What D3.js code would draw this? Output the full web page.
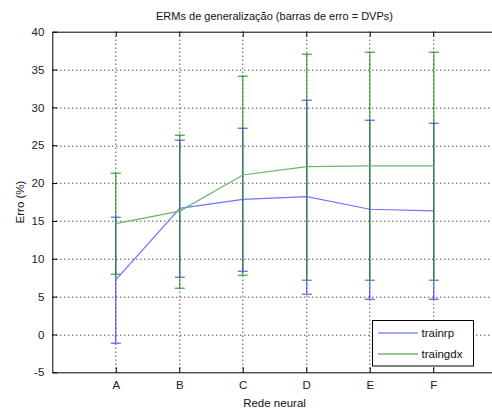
<!DOCTYPE html>
<html>
<head>
<meta charset="utf-8">
<script src="https://cdn.jsdelivr.net/npm/d3@7"></script>
<style>
  body { margin: 0; background: #fff; }
  svg { display: block; font-family: "Liberation Sans", Arial, sans-serif; }
  .tick-label { font-size: 11.5px; fill: #222; }
  .grid line { stroke: #000; stroke-dasharray: 1,3; stroke-width: 1; }
</style>
</head>
<body>
<div class="chart"></div>
<script>
// data
var categories = ["A", "B", "C", "D", "E", "F"];
var trainrpMean = [7.2, 16.67, 17.85, 18.2, 16.54, 16.33];
var trainrpStd = [8.32, 9.03, 9.49, 12.77, 11.8, 11.67];
var traingdxMean = [14.65, 16.3, 21.07, 22.17, 22.28, 22.28];
var traingdxStd = [6.67, 10.15, 13.17, 14.97, 15.04, 15.04];
var yTicks = [-5, 0, 5, 10, 15, 20, 25, 30, 35, 40];

var series = [
  { name: "trainrp", mean: trainrpMean, std: trainrpStd, line: "#7373ff", bar: "#3a3aff", key: "#5050ff" },
  { name: "traingdx", mean: traingdxMean, std: traingdxStd, line: "#6cb56c", bar: "#1f8a1f", key: "#2e922e" }
];

// svg setup
var svgWidth = 492;
var svgHeight = 409;
var margin = { top: 31.7, left: 52.3 };
var chartWidth = 444.4;   // axis runs slightly past the right edge of the picture
var chartHeight = 340.6;

var svg = d3.select(".chart")
  .append("svg")
  .attr("width", svgWidth)
  .attr("height", svgHeight);

var chartGroup = svg.append("g")
  .attr("transform", `translate(${margin.left}, ${margin.top})`);

// scales
var xScale = d3.scaleLinear().domain([0, 7]).range([0, chartWidth]);
var yScale = d3.scaleLinear().domain([-5, 40]).range([chartHeight, 0]);
var xPos = function(i) { return Math.round(xScale(i + 1)) + 0.5; };  // snap to pixel

// dotted grid
var grid = chartGroup.append("g").classed("grid", true);
grid.selectAll(".gy")
  .data(yTicks.filter(d => d > -5 && d < 40))
  .enter()
  .append("line")
  .attr("x1", 0).attr("x2", chartWidth)
  .attr("y1", d => Math.round(yScale(d)) + 0.5)
  .attr("y2", d => Math.round(yScale(d)) + 0.5);
grid.selectAll(".gx")
  .data(categories)
  .enter()
  .append("line")
  .attr("y1", 0).attr("y2", chartHeight)
  .attr("x1", (d, i) => xPos(i))
  .attr("x2", (d, i) => xPos(i));

// error bars and mean lines
series.forEach(function(s) {
  var g = chartGroup.append("g");
  var capHalf = 5;

  g.selectAll(".bar")
    .data(s.mean)
    .enter()
    .append("line")
    .attr("x1", (d, i) => xPos(i))
    .attr("x2", (d, i) => xPos(i))
    .attr("y1", (d, i) => yScale(d - s.std[i]))
    .attr("y2", (d, i) => yScale(d + s.std[i]))
    .attr("stroke", s.bar)
    .attr("stroke-width", 1);

  [-1, 1].forEach(function(sign) {
    g.selectAll(".cap" + sign)
      .data(s.mean)
      .enter()
      .append("line")
      .attr("x1", (d, i) => xPos(i) - capHalf)
      .attr("x2", (d, i) => xPos(i) + capHalf)
      .attr("y1", (d, i) => Math.round(yScale(d + sign * s.std[i])) + 0.5)
      .attr("y2", (d, i) => Math.round(yScale(d + sign * s.std[i])) + 0.5)
      .attr("stroke", s.bar)
      .attr("stroke-width", 1);
  });

  var line = d3.line()
    .x((d, i) => xPos(i))
    .y(d => yScale(d));

  g.append("path")
    .datum(s.mean)
    .attr("d", line)
    .attr("fill", "none")
    .attr("stroke", s.line)
    .attr("stroke-width", 1.2);
});

// axes box (MATLAB style, ticks inside)
var leftAxis = d3.axisLeft(yScale)
  .tickValues(yTicks)
  .tickFormat(d => String(d))   // plain hyphen for -5
  .tickSizeInner(-5).tickSizeOuter(0).tickPadding(8);
var bottomAxis = d3.axisBottom(xScale)
  .tickValues(d3.range(1, 7))
  .tickFormat(d => categories[d - 1])
  .tickSizeInner(-5).tickSizeOuter(0).tickPadding(9);
var topAxis = d3.axisTop(xScale).tickValues(d3.range(1, 7)).tickFormat("").tickSizeInner(-5).tickSizeOuter(0);

var yAxisG = chartGroup.append("g").call(leftAxis);
var xAxisG = chartGroup.append("g")
  .attr("transform", `translate(0, ${chartHeight})`)
  .call(bottomAxis);
var topAxisG = chartGroup.append("g").call(topAxis);

[yAxisG, xAxisG, topAxisG].forEach(function(a) {
  a.select(".domain").attr("stroke", "#000");
  a.selectAll(".tick line").attr("stroke", "#000");
  a.selectAll(".tick text")
    .classed("tick-label", true)
    .attr("font-size", null)
    .attr("font-family", null);
});

// title and axis labels
svg.append("text")
  .attr("x", margin.left + chartWidth / 2)
  .attr("y", 20)
  .attr("text-anchor", "middle")
  .attr("font-size", "11px")
  .attr("fill", "#111")
  .text("ERMs de generalização (barras de erro = DVPs)");

svg.append("text")
  .attr("x", margin.left + chartWidth / 2)
  .attr("y", 407)
  .attr("text-anchor", "middle")
  .attr("font-size", "11.5px")
  .attr("fill", "#111")
  .text("Rede neural");

svg.append("text")
  .attr("transform", "rotate(-90)")
  .attr("x", -(margin.top + chartHeight / 2))
  .attr("y", 24)
  .attr("text-anchor", "middle")
  .attr("font-size", "11.5px")
  .attr("fill", "#111")
  .text("Erro (%)");

// legend
var legend = svg.append("g").attr("transform", "translate(372.5, 320.5)");
legend.append("rect")
  .attr("width", 101)
  .attr("height", 45.5)
  .attr("fill", "#fff")
  .attr("stroke", "#000");

series.forEach(function(s, i) {
  var ly = 12.5 + i * 21;
  legend.append("line")
    .attr("x1", 5.5).attr("x2", 45.5)
    .attr("y1", ly).attr("y2", ly)
    .attr("stroke", s.key)
    .attr("stroke-width", 1);
  legend.append("text")
    .attr("x", 49)
    .attr("y", ly + 4)
    .attr("font-size", "11.5px")
    .attr("fill", "#111")
    .text(s.name);
});
</script>
</body>
</html>
